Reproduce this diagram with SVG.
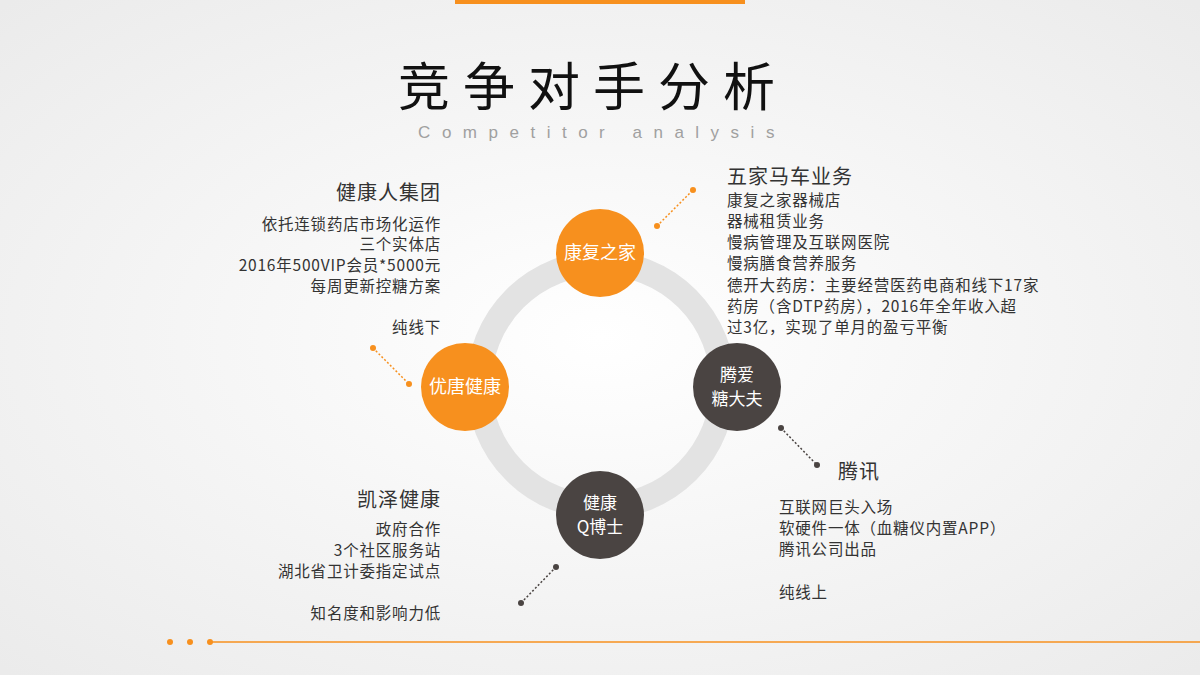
<svg xmlns="http://www.w3.org/2000/svg" width="1200" height="675" viewBox="0 0 1200 675">
<defs>
<radialGradient id="bg" cx="50%" cy="50%" r="70%"><stop offset="0" stop-color="#ffffff"/><stop offset="1" stop-color="#ebebeb"/></radialGradient>
<style>
text{font-family:"Noto Sans CJK SC","Liberation Sans",sans-serif;fill:#333}
.h{font-size:20px;letter-spacing:1px}
.t{font-size:15.5px;letter-spacing:0.8px}
.r{text-anchor:end}
.c{text-anchor:middle;fill:#fff;font-size:18px}
.c2{text-anchor:middle;fill:#fff;font-size:17px}
.dl{stroke-width:1.5;stroke-dasharray:2 2;fill:none}
</style>
</defs>
<rect width="1200" height="675" fill="url(#bg)"/>
<rect x="455" y="0" width="290" height="4" fill="#f7901e"/>
<text x="593" y="106" text-anchor="middle" style="font-size:52px;letter-spacing:13px;fill:#111">竞争对手分析</text>
<text x="602" y="138" text-anchor="middle" style="font-size:17px;letter-spacing:11.5px;fill:#a0a0a0;font-family:'Liberation Sans',sans-serif">Competitor analysis</text>
<circle cx="601" cy="385" r="122" fill="none" stroke="#e3e3e3" stroke-width="25"/>
<g id="connectors">
<line class="dl" x1="657" y1="226" x2="693" y2="190" stroke="#f7901e"/><circle cx="657" cy="226" r="3" fill="#f7901e"/><circle cx="693" cy="190" r="3" fill="#f7901e"/>
<line class="dl" x1="373" y1="348" x2="409" y2="384" stroke="#f7901e"/><circle cx="373" cy="348" r="3" fill="#f7901e"/><circle cx="409" cy="384" r="3" fill="#f7901e"/>
<line class="dl" x1="781" y1="428" x2="817" y2="465" stroke="#4a4442"/><circle cx="781" cy="428" r="3" fill="#4a4442"/><circle cx="817" cy="465" r="3" fill="#4a4442"/>
<line class="dl" x1="556" y1="567" x2="521" y2="603" stroke="#4a4442"/><circle cx="556" cy="567" r="3" fill="#4a4442"/><circle cx="521" cy="603" r="3" fill="#4a4442"/>
</g>
<g id="n1"><circle cx="600" cy="253" r="44" fill="#f7901e"/><text class="c" x="600" y="259">康复之家</text></g>
<g id="n2"><circle cx="465" cy="387" r="44" fill="#f7901e"/><text class="c" x="465" y="393">优唐健康</text></g>
<g id="n3"><circle cx="737" cy="387" r="44" fill="#4a4442"/><text class="c2" x="737" y="381">腾爱</text><text class="c2" x="737" y="405">糖大夫</text></g>
<g id="n4"><circle cx="600" cy="515" r="44" fill="#4a4442"/><text class="c2" x="600" y="509">健康</text><text class="c2" x="600" y="533">Q博士</text></g>
<g id="t1">
<text class="h" x="727" y="184">五家马车业务</text>
<text class="t" x="727" y="206">康复之家器械店</text>
<text class="t" x="727" y="227">器械租赁业务</text>
<text class="t" x="727" y="248">慢病管理及互联网医院</text>
<text class="t" x="727" y="269">慢病膳食营养服务</text>
<text class="t" x="727" y="291">德开大药房：主要经营医药电商和线下17家</text>
<text class="t" x="727" y="312">药房（含DTP药房），2016年全年收入超</text>
<text class="t" x="727" y="333">过3亿，实现了单月的盈亏平衡</text>
</g>
<g id="t2">
<text class="h r" x="441" y="200">健康人集团</text>
<text class="t r" x="441" y="230">依托连锁药店市场化运作</text>
<text class="t r" x="441" y="250">三个实体店</text>
<text class="t r" x="441" y="271">2016年500VIP会员*5000元</text>
<text class="t r" x="441" y="292">每周更新控糖方案</text>
<text class="t r" x="441" y="333">纯线下</text>
</g>
<g id="t3">
<text class="h r" x="441" y="507">凯泽健康</text>
<text class="t r" x="441" y="535">政府合作</text>
<text class="t r" x="441" y="556">3个社区服务站</text>
<text class="t r" x="441" y="577">湖北省卫计委指定试点</text>
<text class="t r" x="441" y="619">知名度和影响力低</text>
</g>
<g id="t4">
<text class="h" x="838" y="479">腾讯</text>
<text class="t" x="779" y="513">互联网巨头入场</text>
<text class="t" x="779" y="534">软硬件一体（血糖仪内置APP）</text>
<text class="t" x="779" y="555">腾讯公司出品</text>
<text class="t" x="779" y="598">纯线上</text>
</g>
<line x1="210" y1="642" x2="1200" y2="642" stroke="#f7901e" stroke-width="1.5"/>
<circle cx="170" cy="642" r="3" fill="#f7901e"/><circle cx="190" cy="642" r="3" fill="#f7901e"/><circle cx="210" cy="642" r="3" fill="#f7901e"/>
</svg>
